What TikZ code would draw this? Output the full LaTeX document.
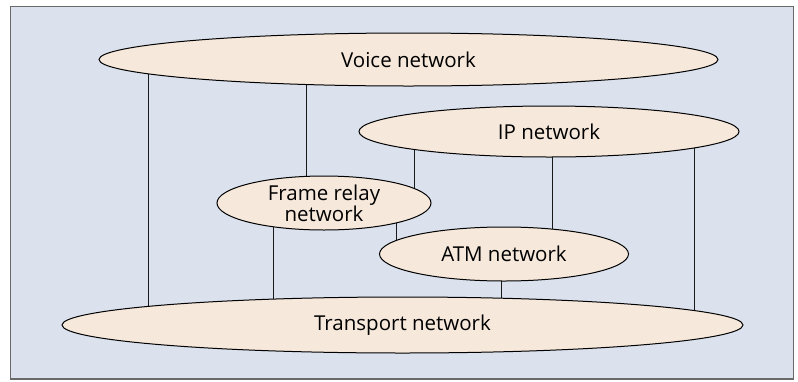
\documentclass[tikz,border=0pt]{standalone}
\usepackage{fontspec}
\setmainfont{Open Sans}
\usetikzlibrary{shapes.geometric}
\definecolor{bgblue}{RGB}{219,226,238}
\definecolor{netfill}{RGB}{246,232,219}
\definecolor{framegray}{RGB}{105,105,105}
\pgfdeclarelayer{bg}
\pgfdeclarelayer{mid}
\pgfsetlayers{bg,mid,main}
\tikzset{
  net/.style={ellipse, draw=black, line width=1pt, fill=netfill, inner sep=0pt},
  txt/.style={font=\fontsize{20.5}{21}\selectfont, align=center, inner sep=0pt, text=black},
  link/.style={draw=black!90, line width=1pt}
}
\begin{document}
\begin{tikzpicture}[x=1pt,y=-1pt]
\useasboundingbox (0,0) rectangle (798,381);
\begin{pgfonlayer}{bg}
  \draw[fill=bgblue, draw=framegray, line width=1.5pt] (10.5,6.5) rectangle (793.5,379);
\end{pgfonlayer}
\node[net, minimum width=619, minimum height=53, label={[txt]center:Voice network}] (voice) at (408.5,59.5) {};
\node[net, minimum width=380, minimum height=51, label={[txt]center:IP network}] (ip) at (549,131.5) {};
\node[net, minimum width=214, minimum height=54, label={[txt]center:Frame relay\\network}] (fr) at (324,203) {};
\node[net, minimum width=249, minimum height=54, label={[txt]center:ATM network}] (atm) at (504,254) {};
\node[net, minimum width=681, minimum height=56, label={[txt]center:Transport network}] (tr) at (402.5,325) {};
\coordinate (x1) at (148,0);
\coordinate (x2) at (306,0);
\coordinate (x3) at (414,0);
\coordinate (x4) at (552,0);
\coordinate (x5) at (694,0);
\coordinate (x6) at (273,0);
\coordinate (x7) at (396,0);
\coordinate (x8) at (501,0);
\begin{pgfonlayer}{mid}
  \draw[link] (voice.center -| x1) -- (tr.center -| x1);
  \draw[link] (voice.center -| x2) -- (fr.center -| x2);
  \draw[link] (ip.center -| x3) -- (fr.center -| x3);
  \draw[link] (ip.center -| x4) -- (atm.center -| x4);
  \draw[link] (ip.center -| x5) -- (tr.center -| x5);
  \draw[link] (fr.center -| x6) -- (tr.center -| x6);
  \draw[link] (fr.center -| x7) -- (atm.center -| x7);
  \draw[link] (atm.center -| x8) -- (tr.center -| x8);
\end{pgfonlayer}
\end{tikzpicture}
\end{document}
